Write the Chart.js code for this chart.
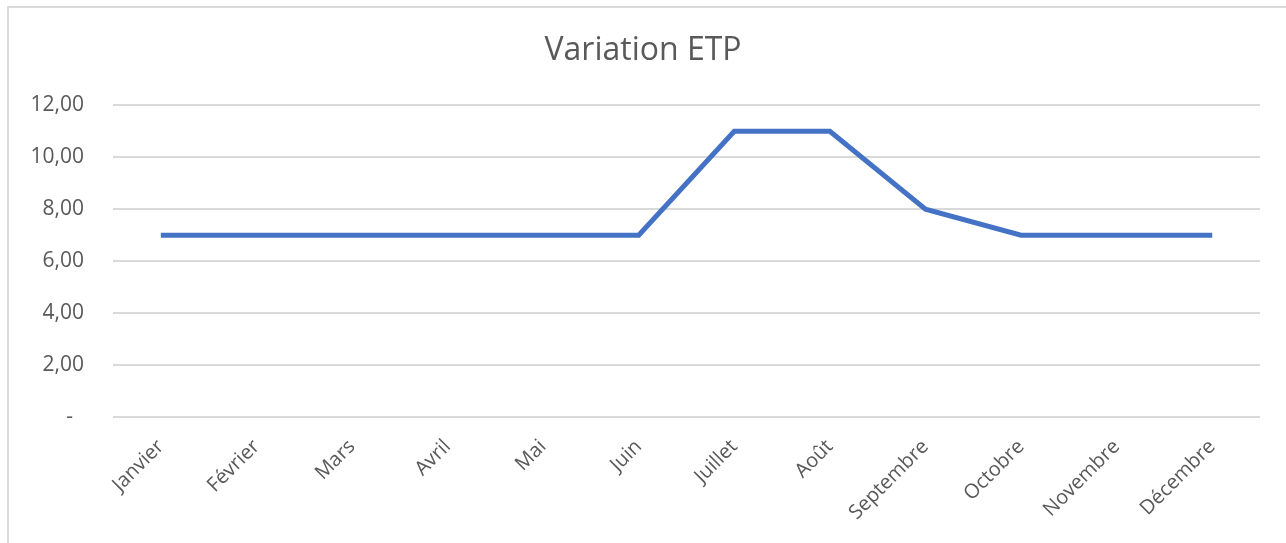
<!DOCTYPE html>
<html>
<head>
<meta charset="utf-8">
<script src="https://cdn.jsdelivr.net/npm/chart.js@4/dist/chart.umd.min.js"></script>
<style>
	html, body { margin: 0; padding: 0; background: #fff; }
	#wrap { position: relative; width: 1286px; height: 543px; overflow: hidden; }
	#frame { position: absolute; left: 7px; top: 6px; width: 1400px; height: 700px; border-top: 2px solid #d9d9d9; border-left: 2px solid #d9d9d9; }
	canvas { position: absolute; left: 0; top: 0; }
</style>
</head>
<body>
<div id="wrap">
	<div id="frame"></div>
	<canvas id="chart" width="1286" height="543"></canvas>
</div>
<script>
var months = [ 'Janvier', 'Février', 'Mars', 'Avril', 'Mai', 'Juin', 'Juillet', 'Août', 'Septembre', 'Octobre', 'Novembre', 'Décembre' ];
var etp    = [ 7, 7, 7, 7, 7, 7, 11, 11, 8, 7, 7, 7 ];
var yTicks = [ 0, 2, 4, 6, 8, 10, 12 ];

var txt = '#595959', grid = '#d9d9d9', font = 'Open Sans';

// format like Excel's accounting style: 12,00 and "-" for zero
function fmt( v ){
	if( v == 0 ) return '-  ';
	return v.toFixed( 2 ).replace( '.', ',' );
}

new Chart( document.getElementById( 'chart' ).getContext( '2d' ), {
	type : 'line',
	data : {
		labels : months,
		datasets : [ {
			label : 'ETP',
			data : etp,
			borderColor : '#4472C4',
			backgroundColor : '#4472C4',
			borderWidth : 5,
			pointRadius : 0,
			tension : 0,
			borderJoinStyle : 'miter'
		} ]
	},
	options : {
		responsive : false,
		animation : false,
		layout : { padding : { left : 26, right : 26, top : 0, bottom : 0 } },
		plugins : {
			legend : { display : false },
			tooltip : { enabled : false },
			title : {
				display : true,
				text : 'Variation ETP',
				color : txt,
				font : { family : font, size : 32, weight : 'normal' },
				padding : { top : 32, bottom : 35 }
			}
		},
		scales : {
			x : {
				offset : true,
				grid : { display : false, drawTicks : false },
				border : { display : false },
				ticks : {
					color : txt,
					font : { family : font, size : 20 },
					maxRotation : 45, minRotation : 45,
					padding : 18
				},
				afterFit : function( s ){ s.height = 126; }
			},
			y : {
				min : 0, max : 12,
				afterBuildTicks : function( s ){ s.ticks = yTicks.map( function( v ){ return { value : v }; } ); },
				grid : { color : grid, lineWidth : 2, drawTicks : false },
				border : { display : false },
				ticks : {
					color : txt,
					font : { family : font, size : 21 },
					padding : 29,
					callback : function( v ){ return fmt( v ); }
				},
				afterFit : function( s ){ s.width = 87; }
			}
		}
	}
} );
</script>
</body>
</html>
